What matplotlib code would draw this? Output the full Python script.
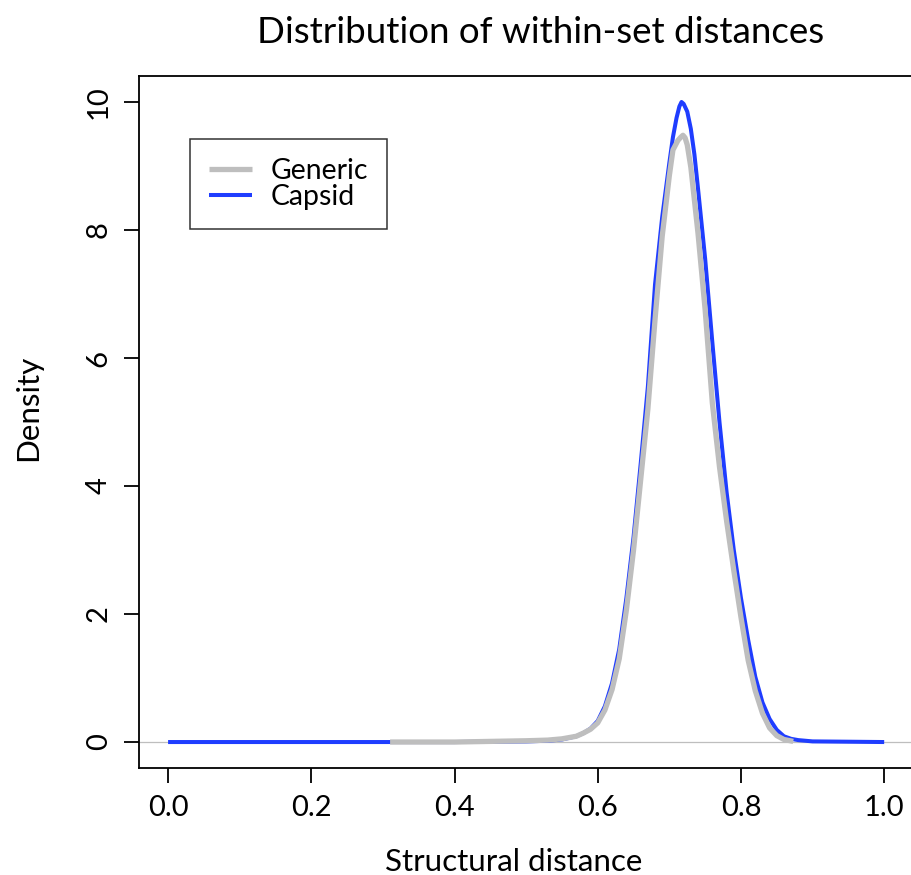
import numpy as np
import matplotlib
matplotlib.use("Agg")
import matplotlib.pyplot as plt

plt.rcParams["font.family"] = ["Lato", "DejaVu Sans"]

# Capsid density curve
capsid_x = [0.00, 0.10, 0.20, 0.30, 0.40, 0.45, 0.50, 0.53, 0.55, 0.57, 0.58,
            0.59, 0.60, 0.61, 0.62, 0.63, 0.64, 0.65, 0.66, 0.67, 0.68, 0.69,
            0.70, 0.705, 0.71, 0.714, 0.717, 0.72, 0.725, 0.73, 0.735, 0.74,
            0.75, 0.76, 0.77, 0.78, 0.79, 0.80, 0.81, 0.82, 0.83, 0.84, 0.85,
            0.86, 0.87, 0.88, 0.90, 0.95, 1.00]
capsid_y = [0.0, 0.0, 0.0, 0.0, 0.0, 0.005, 0.01, 0.02, 0.04, 0.09, 0.14,
            0.21, 0.33, 0.56, 0.92, 1.45, 2.25, 3.20, 4.35, 5.55, 7.15, 8.20,
            9.05, 9.45, 9.75, 9.93, 10.0, 9.97, 9.85, 9.58, 9.18, 8.65,
            7.55, 6.25, 5.00, 3.90, 3.00, 2.25, 1.60, 1.02, 0.62, 0.36, 0.19,
            0.09, 0.05, 0.03, 0.01, 0.005, 0.0]

# Generic density curve
generic_x = [0.31, 0.40, 0.45, 0.50, 0.53, 0.55, 0.57, 0.58, 0.59, 0.60,
             0.61, 0.62, 0.63, 0.64, 0.65, 0.66, 0.67, 0.68, 0.69, 0.70,
             0.705, 0.712, 0.716, 0.719, 0.722, 0.725, 0.73, 0.74, 0.75,
             0.76, 0.77, 0.78, 0.79, 0.80, 0.81, 0.82, 0.83, 0.84, 0.85,
             0.86, 0.873]
generic_y = [0.0, 0.0, 0.01, 0.02, 0.03, 0.05, 0.09, 0.14, 0.20, 0.30,
             0.50, 0.82, 1.30, 2.06, 3.00, 4.10, 5.20, 6.60, 7.90, 8.85,
             9.25, 9.40, 9.45, 9.48, 9.44, 9.33, 8.98, 7.95, 6.75,
             5.30, 4.30, 3.45, 2.68, 1.95, 1.28, 0.80, 0.45, 0.22, 0.10,
             0.04, 0.01]

x_ticks = [0.0, 0.2, 0.4, 0.6, 0.8, 1.0]
y_ticks = [0, 2, 4, 6, 8, 10]

fig = plt.figure(figsize=(9.12, 8.75), dpi=100)
ax = fig.add_axes([0.1529, 0.1227, 0.848, 0.79])

ax.axhline(0, color="#bebebe", linewidth=0.9, zorder=1)
ax.plot(capsid_x, capsid_y, color="#1f3dff", linewidth=2.9, zorder=2,
        label="Capsid", solid_capstyle="butt")
ax.plot(generic_x, generic_y, color="#bebebe", linewidth=3.8, zorder=3,
        label="Generic", solid_capstyle="butt")

ax.set_xlim(-0.04, 1.04)
ax.set_ylim(-0.4, 10.4)
ax.set_xticks(x_ticks)
ax.set_xticklabels(["0.0", "0.2", "0.4", "0.6", "0.8", "1.0"])
ax.set_yticks(y_ticks)
ax.set_yticklabels([str(v) for v in y_ticks], rotation=90, va="center")
ax.tick_params(direction="out", length=11, width=1.3, labelsize=21, pad=9)
for s in ax.spines.values():
    s.set_linewidth(1.3)

fig.text(0.593, 0.951, "Distribution of within-set distances",
         ha="center", va="baseline", fontsize=26.5)
fig.text(0.563, 0.005, "Structural distance", ha="center", va="baseline",
         fontsize=22.6)
fig.text(0.031, 0.534, "Density", ha="center", va="center", fontsize=22.6,
         rotation=90)

h, l = ax.get_legend_handles_labels()
leg = ax.legend(h[::-1], l[::-1], loc="upper left",
                bbox_to_anchor=(0.0654, 0.909), borderaxespad=0,
                fontsize=20.4, frameon=True, fancybox=False,
                edgecolor="black", handlelength=1.52, borderpad=0.67,
                labelspacing=0.0, handletextpad=0.66)
leg.get_frame().set_linewidth(1.1)

fig.savefig("out.png", dpi=100)
